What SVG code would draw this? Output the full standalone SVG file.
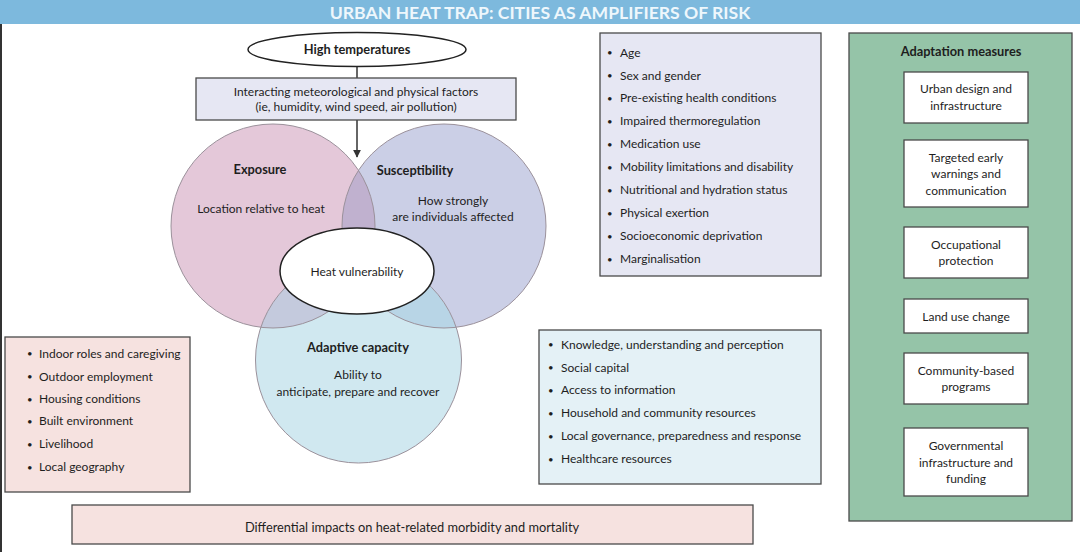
<svg xmlns="http://www.w3.org/2000/svg" width="1080" height="552" viewBox="0 0 1080 552">
<style>
text{font-family:Lato,"Liberation Sans",Arial,sans-serif;font-size:12px;fill:#1e1e1e}
.b{font-weight:bold;font-size:12.8px}
.c{text-anchor:middle}
.bul{font-size:9.5px}
.box{stroke:#4a4a4a;stroke-width:1.3}
.ring{fill:none;stroke:#9b919b;stroke-width:1}
.conn{stroke:#333;stroke-width:1.5;fill:none}
</style>
<defs>
<marker id="arr" viewBox="0 0 10 10" refX="9" refY="5" markerWidth="8" markerHeight="8" markerUnits="userSpaceOnUse" orient="auto">
<path d="M0,0 L10,5 L0,10 z" fill="#333"/>
</marker>
<clipPath id="clipE"><circle cx="273" cy="226" r="102"/></clipPath>
<clipPath id="clipS"><circle cx="444" cy="226" r="102"/></clipPath>
</defs>
<rect width="1080" height="552" fill="#ffffff"/>
<g id="title">
<rect x="0" y="0" width="1080" height="24" fill="#7db9dd"/>
<text class="b c" x="540" y="18.5" style="font-size:17.6px;fill:#eef7fc">URBAN HEAT TRAP: CITIES AS AMPLIFIERS OF RISK</text>
<rect x="0" y="24" width="2" height="528" fill="#333"/>
</g>
<g id="connectors">
<line class="conn" x1="357" y1="66" x2="357" y2="78"/>
<line class="conn" x1="357" y1="120" x2="357" y2="157" marker-end="url(#arr)"/>
</g>
<g id="high-temperatures">
<ellipse cx="357" cy="49.5" rx="109" ry="17" fill="#fff" stroke="#222" stroke-width="1.5"/>
<text class="b c" x="357" y="54">High temperatures</text>
</g>
<g id="factors">
<rect class="box" x="196" y="78" width="320" height="42" fill="#e6e7f3"/>
<text class="c" x="356" y="95.5">Interacting meteorological and physical factors</text>
<text class="c" x="356" y="110.5">(ie, humidity, wind speed, air pollution)</text>
</g>
<g id="venn">
<circle cx="273" cy="226" r="102" fill="#e4c8d9"/>
<circle cx="444" cy="226" r="102" fill="#cbcfe6"/>
<circle cx="358.5" cy="360" r="103" fill="#d0e8f0"/>
<circle cx="444" cy="226" r="102" fill="#c0b1cf" clip-path="url(#clipE)"/>
<circle cx="358.5" cy="360" r="103" fill="#c4cadd" clip-path="url(#clipE)"/>
<circle cx="358.5" cy="360" r="103" fill="#b8d5e6" clip-path="url(#clipS)"/>
<circle class="ring" cx="273" cy="226" r="102"/>
<circle class="ring" cx="444" cy="226" r="102"/>
<circle class="ring" cx="358.5" cy="360" r="103"/>
</g>
<g id="exposure">
<text class="b c" x="260" y="173.5">Exposure</text>
<text class="c" x="261" y="212.5">Location relative to heat</text>
</g>
<g id="susceptibility">
<text class="b c" x="415" y="174.5">Susceptibility</text>
<text class="c" x="453" y="204.5">How strongly</text>
<text class="c" x="453" y="220.5">are individuals affected</text>
</g>
<g id="adaptive-capacity">
<text class="b c" x="358" y="351.5">Adaptive capacity</text>
<text class="c" x="358" y="378.5">Ability to</text>
<text class="c" x="358" y="395.5">anticipate, prepare and recover</text>
</g>
<g id="heat-vulnerability">
<ellipse cx="357" cy="271" rx="77" ry="43" fill="#fff" stroke="#222" stroke-width="1.5"/>
<text class="c" x="357" y="275.5">Heat vulnerability</text>
</g>
<g id="susceptibility-factors">
<rect class="box" x="600" y="33" width="221" height="243" fill="#e6e7f3"/>
<text class="bul" x="607" y="56">•</text><text x="620" y="56.5">Age</text>
<text class="bul" x="607" y="79">•</text><text x="620" y="79.5">Sex and gender</text>
<text class="bul" x="607" y="101.5">•</text><text x="620" y="102">Pre-existing health conditions</text>
<text class="bul" x="607" y="124.5">•</text><text x="620" y="125">Impaired thermoregulation</text>
<text class="bul" x="607" y="147.5">•</text><text x="620" y="148">Medication use</text>
<text class="bul" x="607" y="170.5">•</text><text x="620" y="171">Mobility limitations and disability</text>
<text class="bul" x="607" y="193.5">•</text><text x="620" y="194">Nutritional and hydration status</text>
<text class="bul" x="607" y="216.5">•</text><text x="620" y="217">Physical exertion</text>
<text class="bul" x="607" y="239.5">•</text><text x="620" y="240">Socioeconomic deprivation</text>
<text class="bul" x="607" y="262.5">•</text><text x="620" y="263">Marginalisation</text>
</g>
<g id="exposure-factors">
<rect class="box" x="5" y="337" width="185" height="155" fill="#f6e2e0"/>
<text class="bul" x="27" y="357">•</text><text x="39" y="357.5">Indoor roles and caregiving</text>
<text class="bul" x="27" y="380">•</text><text x="39" y="380.5">Outdoor employment</text>
<text class="bul" x="27" y="402.5">•</text><text x="39" y="403">Housing conditions</text>
<text class="bul" x="27" y="424.5">•</text><text x="39" y="425">Built environment</text>
<text class="bul" x="27" y="447.5">•</text><text x="39" y="448">Livelihood</text>
<text class="bul" x="27" y="470.5">•</text><text x="39" y="471">Local geography</text>
</g>
<g id="capacity-factors">
<rect class="box" x="539" y="330" width="282" height="154" fill="#e4f1f6"/>
<text class="bul" x="548" y="348">•</text><text x="561" y="348.5">Knowledge, understanding and perception</text>
<text class="bul" x="548" y="371">•</text><text x="561" y="371.5">Social capital</text>
<text class="bul" x="548" y="393.5">•</text><text x="561" y="394">Access to information</text>
<text class="bul" x="548" y="416.5">•</text><text x="561" y="417">Household and community resources</text>
<text class="bul" x="548" y="439.5">•</text><text x="561" y="440">Local governance, preparedness and response</text>
<text class="bul" x="548" y="462.5">•</text><text x="561" y="463">Healthcare resources</text>
</g>
<g id="adaptation-measures">
<rect class="box" x="849" y="33" width="223" height="488" fill="#95c4a8"/>
<text class="b c" x="961" y="56">Adaptation measures</text>
</g>
<g id="urban-design">
<rect class="box" x="904" y="72" width="124" height="51" fill="#fff"/>
<text class="c" x="966" y="93">Urban design and</text>
<text class="c" x="966" y="109.5">infrastructure</text>
</g>
<g id="early-warnings">
<rect class="box" x="904" y="140" width="124" height="67" fill="#fff"/>
<text class="c" x="966" y="161.5">Targeted early</text>
<text class="c" x="966" y="178">warnings and</text>
<text class="c" x="966" y="194.5">communication</text>
</g>
<g id="occupational">
<rect class="box" x="904" y="227" width="124" height="51" fill="#fff"/>
<text class="c" x="966" y="248.5">Occupational</text>
<text class="c" x="966" y="265">protection</text>
</g>
<g id="land-use">
<rect class="box" x="904" y="299" width="124" height="34" fill="#fff"/>
<text class="c" x="966" y="320.5">Land use change</text>
</g>
<g id="community">
<rect class="box" x="904" y="353" width="124" height="51" fill="#fff"/>
<text class="c" x="966" y="374.5">Community-based</text>
<text class="c" x="966" y="391">programs</text>
</g>
<g id="governmental">
<rect class="box" x="904" y="428" width="124" height="68" fill="#fff"/>
<text class="c" x="966" y="450">Governmental</text>
<text class="c" x="966" y="466.5">infrastructure and</text>
<text class="c" x="966" y="483">funding</text>
</g>
<g id="impacts">
<rect class="box" x="72" y="505" width="681" height="39" fill="#f6e2e0"/>
<text class="c" x="412" y="531.5" style="font-size:12.8px">Differential impacts on heat-related morbidity and mortality</text>
</g>
</svg>
